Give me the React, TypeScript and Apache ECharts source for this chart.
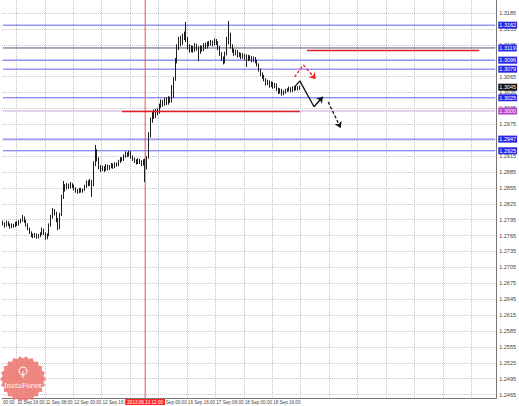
import React, { useEffect, useRef } from "react";
import * as echarts from "echarts";

// Hourly bars, [open, close, low, high] in units of 0.0001
const BARS: number[][] = [
  [12790,12788,12784,12793],[12788,12784,12780,12790],[12784,12790,12782,12793],[12790,12786,12783,12792],
  [12786,12781,12778,12788],[12781,12785,12779,12788],[12785,12783,12780,12787],[12783,12789,12781,12791],
  [12789,12786,12783,12792],[12786,12791,12784,12794],[12791,12794,12788,12797],[12794,12799,12791,12804],
  [12799,12792,12789,12801],[12792,12786,12782,12795],[12786,12778,12775,12788],[12778,12771,12768,12780],
  [12771,12766,12762,12773],[12766,12764,12760,12769],[12764,12767,12761,12770],[12767,12763,12759,12769],
  [12763,12765,12760,12768],[12765,12768,12762,12771],[12768,12776,12766,12780],[12776,12769,12766,12778],
  [12769,12761,12757,12771],[12761,12766,12758,12769],[12766,12785,12764,12788],[12785,12800,12782,12804],
  [12800,12812,12797,12817],[12812,12808,12803,12815],[12808,12795,12790,12810],[12795,12779,12775,12798],
  [12779,12805,12777,12808],[12805,12838,12802,12842],[12838,12852,12834,12868],[12852,12856,12848,12862],
  [12856,12860,12852,12864],[12860,12857,12853,12863],[12857,12862,12854,12866],[12862,12858,12855,12864],
  [12858,12854,12850,12861],[12854,12850,12846,12856],[12850,12848,12844,12853],[12848,12852,12845,12855],
  [12852,12849,12846,12855],[12849,12851,12846,12854],[12851,12858,12849,12861],[12858,12866,12855,12869],
  [12866,12862,12858,12869],[12862,12868,12859,12872],[12868,12860,12838,12870],[12860,12900,12858,12905],
  [12900,12925,12896,12936],[12925,12910,12905,12928],[12910,12895,12890,12913],[12895,12890,12885,12898],
  [12890,12893,12887,12897],[12893,12889,12885,12896],[12889,12897,12887,12900],[12897,12891,12888,12899],
  [12891,12895,12889,12898],[12895,12899,12892,12902],[12899,12894,12891,12901],[12894,12900,12892,12903],
  [12900,12898,12895,12903],[12898,12905,12896,12908],[12905,12910,12902,12913],[12910,12908,12905,12913],
  [12908,12915,12906,12918],[12915,12920,12912,12924],[12920,12917,12913,12922],[12917,12922,12914,12925],
  [12922,12914,12910,12924],[12914,12910,12906,12916],[12910,12906,12902,12912],[12906,12903,12899,12909],
  [12903,12908,12900,12911],[12908,12904,12900,12910],[12904,12900,12896,12907],[12900,12906,12897,12909],
  [12906,12895,12866,12910],[12895,12912,12890,12915],[12912,12955,12910,12960],[12955,12983,12950,12988],
  [12983,12995,12978,13000],[12995,12990,12985,13003],[12990,13000,12987,13004],[13000,12997,12992,13005],
  [12997,13010,12995,13014],[13010,13018,13006,13022],[13018,13012,13008,13021],[13012,13022,13010,13025],
  [13022,13015,13011,13026],[13015,13024,13012,13028],[13024,13019,13015,13027],[13019,13028,13016,13049],
  [13028,13060,13025,13064],[13060,13095,13057,13100],[13095,13120,13090,13126],[13120,13135,13115,13140],
  [13135,13128,13122,13142],[13128,13140,13125,13146],[13140,13145,13134,13150],[13145,13135,13130,13168],
  [13135,13122,13116,13140],[13122,13115,13110,13126],[13115,13120,13111,13124],[13120,13115,13110,13123],
  [13115,13124,13112,13128],[13124,13118,13114,13127],[13118,13112,13094,13122],[13112,13120,13108,13124],
  [13120,13116,13112,13123],[13116,13125,13113,13128],[13125,13121,13117,13129],[13121,13128,13118,13131],
  [13128,13126,13122,13132],[13126,13130,13123,13134],[13130,13126,13122,13133],[13126,13133,13124,13137],
  [13133,13129,13125,13136],[13129,13120,13115,13132],[13120,13108,13104,13123],[13108,13100,13095,13111],
  [13100,13092,13088,13103],[13092,13108,13090,13112],[13108,13130,13105,13140],[13130,13140,13126,13170],
  [13140,13122,13118,13148],[13122,13115,13110,13126],[13115,13108,13104,13118],[13108,13112,13105,13116],
  [13112,13105,13101,13115],[13105,13108,13102,13111],[13108,13102,13098,13110],[13102,13106,13099,13109],
  [13106,13100,13096,13108],[13100,13104,13083,13107],[13104,13098,13094,13106],[13098,13102,13095,13105],
  [13102,13096,13092,13104],[13096,13100,13093,13103],[13100,13094,13090,13102],[13094,13088,13084,13097],
  [13088,13078,13074,13090],[13078,13070,13066,13080],[13070,13065,13061,13073],[13065,13060,13056,13068],
  [13060,13052,13048,13062],[13052,13056,13049,13059],[13056,13048,13044,13058],[13048,13053,13045,13056],
  [13053,13046,13042,13055],[13046,13050,13043,13053],[13050,13042,13038,13052],[13042,13036,13032,13044],
  [13036,13040,13033,13043],[13040,13033,13029,13042],[13033,13036,13030,13039],[13036,13039,13033,13042],
  [13039,13040,13036,13043],[13040,13043,13037,13046],[13043,13038,13035,13045],[13038,13044,13036,13047],
  [13044,13041,13038,13046],[13041,13045,13039,13048],[13045,13042,13039,13047],[13042,13045,13040,13048],
];

const SLOT_COUNT = 278;
const X_TICK_SLOTS = [0, 8, 24, 40, 56, 88, 104, 120, 136, 152];
const X_TICK_LABELS = ["00:00", "10 Sep 16:00", "11 Sep 08:00", "12 Sep 00:00", "12 Sep 16:00",
  "16 Sep 00:00", "16 Sep 16:00", "17 Sep 08:00", "18 Sep 00:00", "18 Sep 16:00"];

const Y_MIN = 1.24585;
const Y_MAX = 1.32095;
const Y_TICKS = [1.2465, 1.2495, 1.2525, 1.2555, 1.2585, 1.2615, 1.2645, 1.2675, 1.2705, 1.2735, 1.2765,
  1.2795, 1.2825, 1.2855, 1.2885, 1.2915, 1.2945, 1.2975, 1.3005, 1.3035, 1.3065, 1.3095, 1.3125, 1.3155, 1.3185];

const BLUE_LEVELS = [1.3162, 1.3096, 1.3079, 1.3025, 1.2947, 1.2925];
const NAVY_LEVEL = 1.3119;
const PURPLE_LEVEL = 1.3000;
const CURRENT_PRICE = 1.3045;
const MARKER_SLOT = 80;
const MARKER_LABEL = "2013.09.13 12:00";
// red segments: [slotStart, slotEnd, price]
const RED_SEGMENTS = [[171, 268, 1.3115], [67, 167, 1.3000]];
// forecast arrows: [slot, price*1e4]
const ARROW_BLACK = [[164, 13045], [167, 13057], [175, 13008], [180, 13027]];
const ARROW_BLACK_DASH = [[183, 13017], [190, 12968]];
const ARROW_RED = [[164, 13064], [169, 13087], [176, 13060]];

const FONT = "Liberation Sans";

function seg(a: number[], b: number[], lineStyle: any, label: any, endSymbol = "none", symbolSize = 0) {
  return [
    { coord: a, symbol: "none", lineStyle, label },
    { coord: b, symbol: endSymbol, symbolSize, lineStyle, label },
  ];
}

function chain(points: number[][], color: string, dashed: boolean) {
  const items: any[] = [];
  for (let k = 0; k < points.length - 1; k++) {
    const last = k === points.length - 2;
    items.push(seg(
      [points[k][0], points[k][1] / 10000],
      [points[k + 1][0], points[k + 1][1] / 10000],
      { color, width: 1.3, type: dashed ? [3, 2] : "solid", opacity: 1 },
      { show: false },
      last ? "arrow" : "none", last ? 6 : 0,
    ));
  }
  return items;
}

function levelSeries(v: number, color: string, width: number, bg: string, visible = true) {
  return {
    type: "line", silent: true, symbol: "none", z: 3, animation: false,
    data: [[0, v], [SLOT_COUNT - 1, v]],
    lineStyle: { color: visible ? color : "rgba(0,0,0,0)", width },
    endLabel: {
      show: true, formatter: v.toFixed(4), backgroundColor: bg, color: "#ffffff",
      fontSize: 5.5, fontFamily: FONT, padding: [1, 1, 0, 1], distance: 3,
    },
  };
}

export default function App() {
  const ref = useRef<HTMLDivElement>(null);
  useEffect(() => {
    document.body.style.margin = "0";
    const chart = echarts.init(ref.current!, null, { renderer: "svg" });
    const categories = Array.from({ length: SLOT_COUNT }, (_, i) => String(i));
    const labelMap = new Map<number, string>();
    X_TICK_SLOTS.forEach((s, k) => labelMap.set(s, X_TICK_LABELS[k]));
    const candles = BARS.map((r) => r.map((v) => v / 10000));

    const markData: any[] = [];
    markData.push(seg([MARKER_SLOT, Y_MIN], [MARKER_SLOT, Y_MAX], { color: "rgba(0,0,0,0)", width: 1, type: "solid" },
      { show: true, position: "start", distance: 1, formatter: MARKER_LABEL, backgroundColor: "#ff2424", color: "#ffffff", fontSize: 4.6, fontFamily: FONT, padding: [1, 2, 0, 2] }));
    RED_SEGMENTS.forEach(([a, b, p]) => markData.push(seg([a, p], [b, p], { color: "#e02020", width: 1.3, type: "solid", opacity: 1 }, { show: false })));
    markData.push(...chain(ARROW_BLACK, "#111111", false));
    markData.push(...chain(ARROW_BLACK_DASH, "#111111", true));
    markData.push(...chain(ARROW_RED, "#ee2222", true));

    const extraSeries: any[] = [];
    BLUE_LEVELS.forEach((v) => extraSeries.push(levelSeries(v, "#6464f6", 1, "#2626e6")));
    extraSeries.push(levelSeries(NAVY_LEVEL, "#55557c", 1, "#2626e6"));
    extraSeries.push(levelSeries(PURPLE_LEVEL, "#dcc6ea", 1.5, "#b540c8"));
    extraSeries.push(levelSeries(CURRENT_PRICE, "#000000", 1, "#111111", false));
    extraSeries.push({
      type: "line", silent: true, symbol: "none", z: 4, animation: false,
      data: [[MARKER_SLOT, Y_MIN], [MARKER_SLOT, Y_MAX]],
      lineStyle: { color: "#ee5050", width: 1 },
    });

    // decorative seal watermark
    const sealPts: number[][] = [];
    const teeth = 22;
    for (let k = 0; k < teeth * 2; k++) {
      const a = (Math.PI * k) / teeth;
      const r = k % 2 === 0 ? 23 : 20.5;
      sealPts.push([23 + r * Math.cos(a), 379 + r * Math.sin(a)]);
    }

    chart.setOption({
      animation: false,
      backgroundColor: "#ffffff",
      grid: { left: 0, right: 22, top: 0, bottom: 8 },
      xAxis: {
        type: "category", data: categories, boundaryGap: true,
        axisLine: { show: true, lineStyle: { color: "#777777" } },
        axisTick: { show: false },
        axisLabel: {
          interval: (i: number) => labelMap.has(i),
          formatter: (_v: string, i: number) => labelMap.get(i) ?? "",
          align: "left", fontSize: 4.6, color: "#444444", margin: 2, fontFamily: FONT,
        },
        splitLine: { show: true, interval: (i: number) => i % 16 === 8, lineStyle: { color: "#c4c4c4", type: "dotted", width: 1 } },
      },
      yAxis: {
        type: "value", position: "right", min: Y_MIN, max: Y_MAX, scale: true,
        axisLine: { show: true, lineStyle: { color: "#777777" } },
        axisTick: { show: false, customValues: Y_TICKS },
        axisLabel: { customValues: Y_TICKS, formatter: (v: number) => v.toFixed(4), fontSize: 5.5, color: "#444444", margin: 3, fontFamily: FONT },
        splitLine: { show: true, lineStyle: { color: "#c4c4c4", type: "dotted", width: 1 } },
      },
      series: [
        ...extraSeries,
        {
          type: "candlestick", data: candles, barWidth: 1.2, z: 5,
          itemStyle: { color: "#ffffff", color0: "#1e1e1e", borderColor: "#1e1e1e", borderColor0: "#1e1e1e", borderWidth: 1 },
          markLine: { silent: true, precision: 6, symbol: ["none", "none"], animation: false, z: 10, data: markData },
        },
      ],
      graphic: [
        { type: "polygon", shape: { points: sealPts }, style: { fill: "#ea766d", opacity: 0.88 }, z: 20 },
        { type: "circle", shape: { cx: 23, cy: 371, r: 4 }, style: { fill: "none", stroke: "#ffffff", lineWidth: 1 }, z: 21 },
        { type: "line", shape: { x1: 23, y1: 371, x2: 23, y2: 378 }, style: { stroke: "#ffffff", lineWidth: 1 }, z: 21 },
        { type: "text", x: 23, y: 386, style: { text: "InstaForex", fill: "#ffffff", fontSize: 7, fontFamily: "DejaVu Serif", align: "center", verticalAlign: "middle" }, z: 21 },
      ],
    });
    return () => chart.dispose();
  }, []);
  return <div ref={ref} style={{ width: 519, height: 406 }} />;
}
